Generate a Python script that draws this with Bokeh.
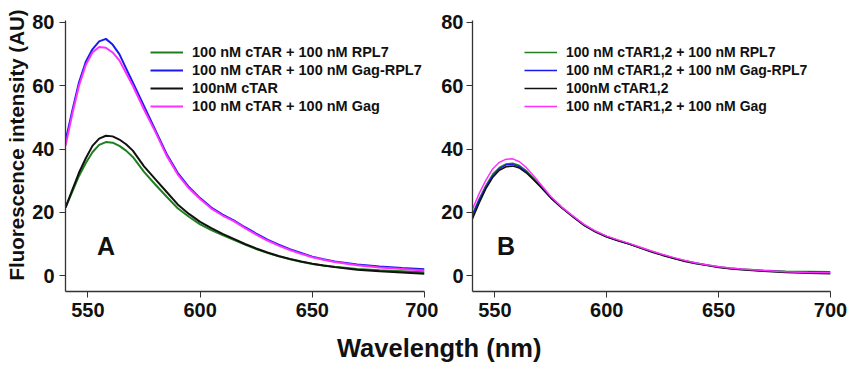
from bokeh.plotting import figure
from bokeh.layouts import row, column
from bokeh.models import Range1d, Legend, LegendItem, Label, Title, Div
from bokeh.embed import file_html
from bokeh.resources import INLINE

# ---------------- data ----------------
wl = [540, 543, 546, 549, 552, 555, 558, 561, 564, 567, 570, 575, 580, 585, 590,
      595, 600, 605, 610, 615, 620, 625, 630, 635, 640, 645, 650, 655, 660, 670,
      680, 690, 700]

# Panel A (cTAR)
a_rpl7 = [21.5, 26.5, 31.5, 35.5, 39.0, 41.3, 42.2, 42.0, 41.0, 39.5, 37.5, 32.8, 28.8, 25.0, 21.3,
          18.6, 16.2, 14.4, 12.8, 11.3, 9.8, 8.4, 7.2, 6.1, 5.2, 4.4, 3.7, 3.2, 2.8, 2.1,
          1.7, 1.4, 1.1]
a_gag_rpl7 = [42.5, 52.0, 61.0, 67.5, 71.5, 74.0, 74.8, 73.0, 70.0, 65.5, 61.0, 53.5, 46.0, 38.5, 32.5,
              28.0, 24.5, 21.5, 19.3, 17.5, 15.3, 13.3, 11.4, 9.8, 8.4, 7.2, 6.0, 5.2, 4.5, 3.5,
              2.9, 2.4, 2.0]
a_ctar = [21.5, 27.0, 32.5, 37.0, 41.0, 43.3, 44.2, 44.0, 43.0, 41.5, 39.5, 34.5, 30.5, 26.5, 22.5,
          19.5, 17.0, 15.0, 13.2, 11.6, 10.0, 8.6, 7.3, 6.2, 5.3, 4.5, 3.8, 3.2, 2.7, 1.9,
          1.4, 1.0, 0.6]
a_gag = [41.0, 51.0, 60.0, 66.5, 70.5, 72.2, 72.0, 70.5, 68.0, 64.0, 60.0, 52.5, 45.5, 38.0, 32.0,
         27.6, 24.2, 21.2, 19.0, 17.2, 15.0, 13.0, 11.1, 9.5, 8.1, 6.9, 5.8, 5.0, 4.3, 3.3,
         2.6, 2.1, 1.6]

# Panel B (cTAR1,2)
b_rpl7 = [19.5, 24.3, 28.5, 32.0, 34.2, 35.3, 35.5, 34.8, 33.2, 31.0, 28.7, 24.8, 21.6, 18.7, 16.0,
          14.0, 12.4, 11.2, 10.1, 8.9, 7.7, 6.6, 5.6, 4.7, 4.0, 3.4, 2.8, 2.4, 2.1, 1.7,
          1.4, 1.3, 1.2]
b_gag_rpl7 = [19.0, 23.8, 28.0, 31.5, 33.8, 35.0, 35.1, 34.4, 32.8, 30.7, 28.5, 24.6, 21.4, 18.6, 15.9,
              13.9, 12.3, 11.1, 10.0, 8.8, 7.6, 6.5, 5.5, 4.6, 3.9, 3.3, 2.7, 2.3, 2.0, 1.5,
              1.2, 1.1, 1.0]
b_ctar = [18.0, 23.0, 27.5, 31.0, 33.3, 34.4, 34.6, 34.0, 32.5, 30.5, 28.3, 24.5, 21.3, 18.5, 15.8,
          13.8, 12.2, 11.0, 10.0, 8.7, 7.5, 6.4, 5.4, 4.5, 3.8, 3.2, 2.6, 2.2, 1.9, 1.4,
          1.0, 0.8, 0.6]
b_gag = [21.0, 26.0, 30.2, 33.7, 35.8, 36.8, 36.9, 36.0, 34.2, 31.8, 29.3, 25.0, 21.6, 18.8, 16.1,
         14.1, 12.5, 11.3, 10.2, 9.0, 7.8, 6.7, 5.7, 4.8, 4.0, 3.4, 2.8, 2.4, 2.1, 1.6,
         1.2, 1.0, 0.9]

labels_a = ["100 nM cTAR + 100 nM RPL7", "100 nM cTAR + 100 nM Gag-RPL7",
            "100nM cTAR", "100 nM cTAR + 100 nM Gag"]
labels_b = ["100 nM cTAR1,2 + 100 nM RPL7", "100 nM cTAR1,2 + 100 nM Gag-RPL7",
            "100nM cTAR1,2", "100 nM cTAR1,2 + 100 nM Gag"]
colors = ["#1f7f1f", "#1a1af0", "#111111", "#ff30ff"]
x_ticks = [550, 600, 650, 700]
y_ticks = [0, 20, 40, 60, 80]

FONT = "Liberation Sans"


def style_axes(p):
    for ax in (p.xaxis[0], p.yaxis[0]):
        ax.major_label_text_font = FONT
        ax.major_label_text_font_style = "bold"
        ax.major_label_text_font_size = "20px"
        ax.major_label_text_color = "#111111"
        ax.axis_line_color = "#333333"
        ax.axis_line_width = 1.3
        ax.major_tick_line_color = "#333333"
        ax.minor_tick_line_color = "#333333"
        ax.major_tick_in = 0
        ax.major_tick_out = 6
        ax.minor_tick_in = 0
        ax.minor_tick_out = 4
    p.xaxis[0].ticker = x_ticks
    p.xaxis[0].ticker.num_minor_ticks = 2
    p.yaxis[0].ticker = y_ticks
    p.yaxis[0].ticker.num_minor_ticks = 2
    p.xgrid.visible = False
    p.ygrid.visible = False
    p.outline_line_color = None


def make_panel(series, labels, width, border_left, border_right, lw, leg_x, leg_font,
               letter, letter_x):
    p = figure(width=width, height=326, output_backend="svg", toolbar_location=None,
               x_range=Range1d(540, 700), y_range=Range1d(-5, 80.6),
               min_border_left=border_left, min_border_right=border_right,
               min_border_top=20, min_border_bottom=35)
    style_axes(p)
    items = []
    for ys, lab, c in zip(series, labels, colors):
        r = p.line(wl, ys, line_color=c, line_width=lw)
        items.append(LegendItem(label=lab, renderers=[r]))
    leg = Legend(items=items, location=(leg_x, 176), padding=0, margin=0, spacing=0,
                 label_height=18, glyph_height=18, glyph_width=33, label_standoff=9,
                 label_text_font=FONT, label_text_font_style="bold",
                 label_text_font_size=leg_font, label_text_color="#111111",
                 border_line_color=None, background_fill_alpha=0)
    p.add_layout(leg, "center")
    p.add_layout(Label(x=letter_x, y=9.5, text=letter, text_font=FONT,
                       text_font_style="bold", text_font_size="25px",
                       text_align="left", text_baseline="alphabetic",
                       text_color="#111111"))
    return p


pA = make_panel([a_rpl7, a_gag_rpl7, a_ctar, a_gag], labels_a, 438, 65, 14, 2.0, 85,
                "14.5px", "A", 554.0)
pA.add_layout(Title(text="Fluorescence intensity (AU)", align="left", offset=11,
                    vertical_align="top",
                    text_font=FONT, text_font_style="bold", text_font_size="20.5px",
                    text_color="#111111", standoff=0), "left")

pB = make_panel([b_rpl7, b_gag_rpl7, b_ctar, b_gag], labels_b, 412, 32, 20, 1.5, 52,
                "14px", "B", 551.0)
pB.yaxis[0].major_label_standoff = 3

xlab = Div(text="Wavelength (nm)", margin=(4, 0, 0, 337),
           styles={"font-family": FONT, "font-weight": "bold", "font-size": "25.5px",
                   "color": "#111111", "white-space": "nowrap"})

layout = column(row(pA, pB), xlab)
open("out.html", "w").write(file_html(layout, INLINE))
